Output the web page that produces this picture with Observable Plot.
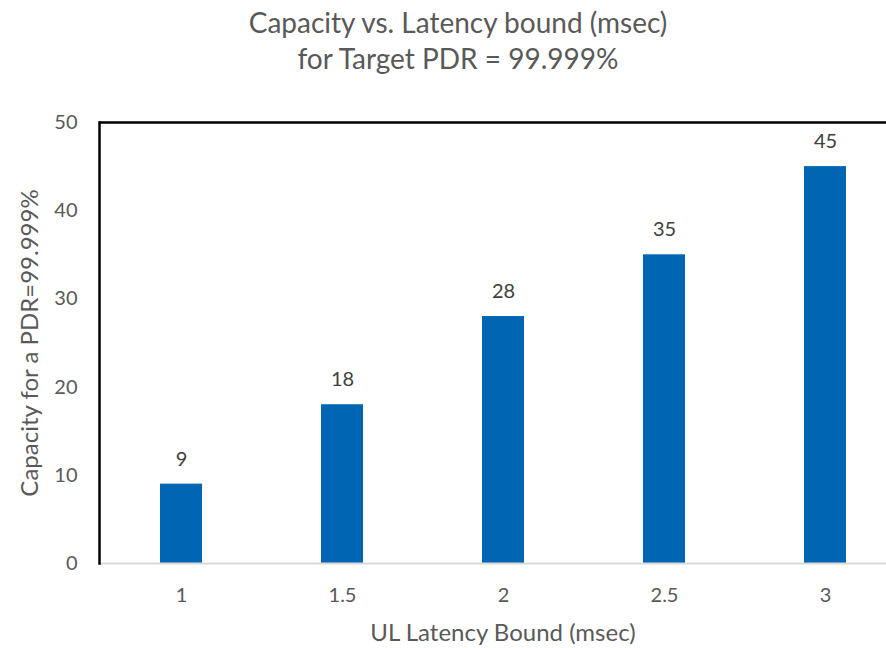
<!DOCTYPE html>
<html>
<head>
<meta charset="utf-8">
<script src="https://cdn.jsdelivr.net/npm/d3@7"></script>
<script src="https://cdn.jsdelivr.net/npm/@observablehq/plot@0.6"></script>
<style>
  body { margin: 0; background: #fff; font-family: Lato, "Open Sans", sans-serif; }
  #title { height: 100px; width: 916px; text-align: center; color: #595959; font-size: 28px; line-height: 36px; padding-top: 4px; box-sizing: border-box; white-space: nowrap; }
</style>
</head>
<body>
<div id="title">Capacity vs. Latency bound (msec)<br>for Target PDR = 99.999%</div>
<div id="chart"></div>
<script>
const categories = ["1", "1.5", "2", "2.5", "3"];
const capacities = [9, 18, 28, 35, 45];
const yTicks = [0, 10, 20, 30, 40, 50];
const xLabel = "UL Latency Bound (msec)";
const yLabel = "Capacity for a PDR=99.999%";

const data = categories.map((c, i) => ({ latency: c, capacity: capacities[i] }));

const chart = Plot.plot({
  width: 886,
  height: 548,
  marginTop: 22,
  marginLeft: 99,
  marginRight: 0,
  marginBottom: 85,
  style: { fontFamily: "Lato, 'Open Sans', sans-serif", background: "#fff" },
  x: { type: "band", domain: categories, range: [99.5, 906], paddingInner: 0.74, paddingOuter: 0.37, align: 0.5 },
  y: { domain: [0, 50] },
  marks: [
    Plot.barY(data, { x: "latency", y: "capacity", fill: "#0066B3" }),
    Plot.ruleY([0], { stroke: "#d9d9d9", strokeWidth: 2 }),
    Plot.ruleY([50], { stroke: "#000", strokeWidth: 2.5 }),
    Plot.frame({ anchor: "left", stroke: "#000", strokeWidth: 2.5 }),
    Plot.text(data, { x: "latency", y: "capacity", text: d => String(d.capacity), dy: -25, fontSize: 20, fill: "#404040" }),
    Plot.axisX({ tickSize: 0, tickPadding: 24, fontSize: 20, color: "#595959", label: null }),
    Plot.axisY({ ticks: yTicks, tickSize: 0, tickPadding: 22, fontSize: 20, color: "#595959", label: null }),
    Plot.text([xLabel], { frameAnchor: "bottom", text: d => d, dx: 10, dy: 70, lineAnchor: "middle", textAnchor: "middle", fontSize: 24, fill: "#595959" }),
    Plot.text([yLabel], { frameAnchor: "left", text: d => d, rotate: -90, dx: -69, lineAnchor: "middle", textAnchor: "middle", fontSize: 24, fill: "#595959" })
  ]
});
document.getElementById("chart").appendChild(chart);
</script>
</body>
</html>
